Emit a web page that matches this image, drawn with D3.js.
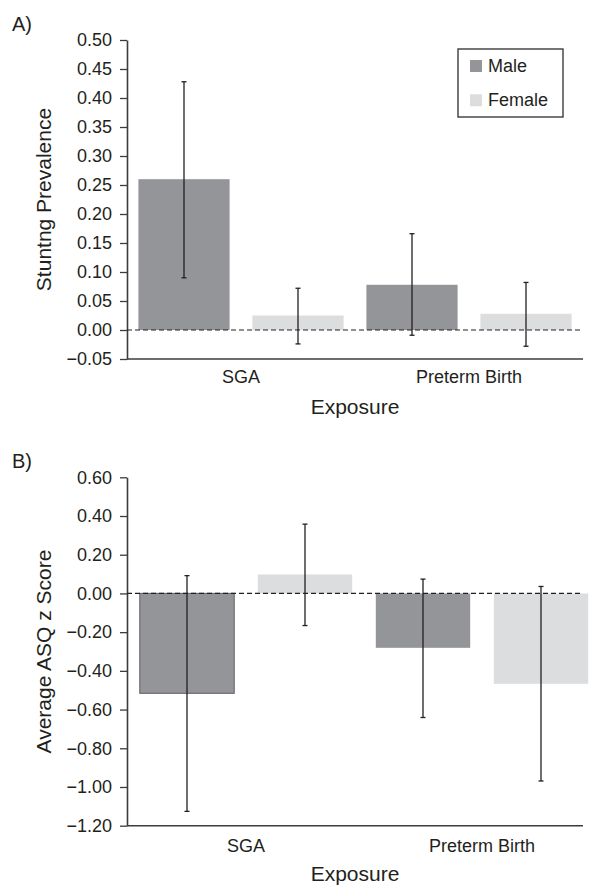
<!DOCTYPE html>
<html>
<head>
<meta charset="utf-8">
<script src="https://cdn.jsdelivr.net/npm/d3@7"></script>
<style>
  body { margin: 0; background: #fff; }
  text { font-family: "Liberation Sans", Arial, sans-serif; fill: #231f20; }
</style>
</head>
<body>
<div id="chart"></div>
<script>
// Categories and groups
var categories = ["SGA", "Preterm Birth"]
var sexes = ["Male", "Female"]

// Panel A: stunting prevalence (value, lower CI, upper CI)
var stuntMale = [0.26, 0.078]
var stuntMaleLo = [0.09, -0.009]
var stuntMaleHi = [0.428, 0.166]
var stuntFemale = [0.025, 0.028]
var stuntFemaleLo = [-0.024, -0.028]
var stuntFemaleHi = [0.072, 0.082]
var ticksA = [-0.05, 0, 0.05, 0.10, 0.15, 0.20, 0.25, 0.30, 0.35, 0.40, 0.45, 0.50]

// Panel B: average ASQ z score (value, lower CI, upper CI)
var asqMale = [-0.516, -0.281]
var asqMaleLo = [-1.126, -0.641]
var asqMaleHi = [0.092, 0.074]
var asqFemale = [0.098, -0.467]
var asqFemaleLo = [-0.166, -0.969]
var asqFemaleHi = [0.358, 0.036]
var ticksB = [-1.2, -1.0, -0.8, -0.6, -0.4, -0.2, 0, 0.2, 0.4, 0.6]

// Some global parameters
var width = 596;
var height = 885;
var colors = {Male: "#939598", Female: "#dcddde"}
var ink = "#231f20"
var axisColor = "#3c3c3c"

const svg = d3.select("#chart")
              .append("svg")
              .attr("width", width)
              .attr("height", height)

function rows(vals, lo, hi, sex) {
  return categories.map((c, i) => ({cat: c, sex: sex, v: vals[i], lo: lo[i], hi: hi[i], idx: i}))
}

function drawPanel(p) {
  var y = d3.scaleLinear().domain(p.domain).range([p.bottom, p.top])

  var x0 = d3.scaleBand().domain(categories).range(p.barRange)
  var x1 = d3.scaleBand().domain(sexes).range([0, x0.bandwidth()])
             .paddingInner(0.2).paddingOuter(0.1)

  var g = svg.append("g").attr("class", "panel-" + p.id)

  // Panel letter
  g.append("text").attr("x", 12).attr("y", p.letterY)
   .attr("font-size", 20).text(p.letter)

  // y axis
  var yAxis = d3.axisLeft(y).tickValues(p.ticks).tickFormat(d3.format(".2f"))
                .tickSize(7).tickPadding(8).tickSizeOuter(0)
  var gy = g.append("g")
     .attr("transform", "translate(" + p.left + ",0)")
     .call(yAxis)
  gy.selectAll("text").attr("font-size", 18).attr("fill", ink)
    .style("font-family", "'Liberation Sans', Arial, sans-serif")
  gy.selectAll("line").attr("stroke", axisColor).attr("stroke-width", 1.3)
  gy.select(".domain").attr("stroke", axisColor).attr("stroke-width", 1.6)

  // x axis line
  g.append("line")
   .attr("x1", p.left).attr("x2", p.right)
   .attr("y1", p.bottom).attr("y2", p.bottom)
   .attr("stroke", axisColor).attr("stroke-width", 1.6)

  var data = rows(p.male, p.maleLo, p.maleHi, "Male").concat(rows(p.female, p.femaleLo, p.femaleHi, "Female"))

  // Bars
  g.selectAll(".bar").data(data).enter()
   .append("rect").attr("class", "bar")
   .attr("x", (d) => x0(d.cat) + x1(d.sex))
   .attr("width", x1.bandwidth())
   .attr("y", (d) => y(Math.max(0, d.v)))
   .attr("height", (d) => Math.abs(y(d.v) - y(0)))
   .attr("fill", (d) => colors[d.sex])
   .attr("stroke", (d) => (p.outlineFirst && d.sex == "Male" && d.idx == 0) ? "#6d6e71" : "none")
   .attr("stroke-width", 1.2)

  // Zero line (dashed)
  g.append("line")
   .attr("x1", p.left).attr("x2", p.right - 3)
   .attr("y1", y(0)).attr("y2", y(0))
   .attr("stroke", ink).attr("stroke-width", 1.2)
   .style("stroke-dasharray", "5, 3")

  // Error bars
  var cx = (d) => x0(d.cat) + x1(d.sex) + x1.bandwidth() / 2
  var eb = g.selectAll(".err").data(data).enter().append("g").attr("class", "err")
  eb.append("line")
    .attr("x1", cx).attr("x2", cx)
    .attr("y1", (d) => y(d.lo)).attr("y2", (d) => y(d.hi))
    .attr("stroke", ink).attr("stroke-width", 1.3)
  eb.append("line")
    .attr("x1", (d) => cx(d) - 2.5).attr("x2", (d) => cx(d) + 2.5)
    .attr("y1", (d) => y(d.hi)).attr("y2", (d) => y(d.hi))
    .attr("stroke", ink).attr("stroke-width", 1.3)
  eb.append("line")
    .attr("x1", (d) => cx(d) - 2.5).attr("x2", (d) => cx(d) + 2.5)
    .attr("y1", (d) => y(d.lo)).attr("y2", (d) => y(d.lo))
    .attr("stroke", ink).attr("stroke-width", 1.3)

  // Category labels
  g.selectAll(".cat").data(categories).enter()
   .append("text").attr("class", "cat")
   .attr("x", (d) => x0(d) + x0.bandwidth() / 2)
   .attr("y", p.catY)
   .attr("text-anchor", "middle")
   .attr("font-size", 18)
   .text((d) => d)

  // Axis labels
  g.append("text")
   .attr("x", (p.left + p.right) / 2)
   .attr("y", p.xLabelY)
   .attr("text-anchor", "middle")
   .attr("font-size", 21)
   .text("Exposure")

  g.append("text")
   .attr("transform", "translate(51," + ((p.top + p.bottom) / 2) + ") rotate(-90)")
   .attr("text-anchor", "middle")
   .attr("font-size", 21)
   .text(p.yLabel)
}

drawPanel({
  id: "a", letter: "A)", letterY: 31, domain: [-0.05, 0.50], top: 40, bottom: 359,
  left: 127, right: 583, barRange: [127, 583], ticks: ticksA,
  male: stuntMale, maleLo: stuntMaleLo, maleHi: stuntMaleHi,
  female: stuntFemale, femaleLo: stuntFemaleLo, femaleHi: stuntFemaleHi,
  catY: 383, xLabelY: 414, yLabel: "Stuntng Prevalence", outlineFirst: false
})

drawPanel({
  id: "b", letter: "B)", letterY: 468, domain: [-1.2, 0.6], top: 477.3, bottom: 825.7,
  left: 127, right: 583, barRange: [128, 600], ticks: ticksB,
  male: asqMale, maleLo: asqMaleLo, maleHi: asqMaleHi,
  female: asqFemale, femaleLo: asqFemaleLo, femaleHi: asqFemaleHi,
  catY: 852, xLabelY: 881, yLabel: "Average ASQ z Score", outlineFirst: true
})

// Legend (panel A)
svg.append("rect").attr("x", 458).attr("y", 49)
   .attr("width", 105).attr("height", 68)
   .attr("fill", "#fff").attr("stroke", axisColor).attr("stroke-width", 1.4)

var legend = svg.selectAll(".legendItem").data(sexes).enter()
                .append("g").attr("class", "legendItem")
                .attr("transform", (d, i) => "translate(470," + (60 + i * 34.3) + ")")

legend.append("rect").attr("width", 12).attr("height", 12)
      .attr("fill", (d) => colors[d])

legend.append("text").attr("x", 18).attr("y", 12)
      .attr("font-size", 18).text((d) => d)
</script>
</body>
</html>
